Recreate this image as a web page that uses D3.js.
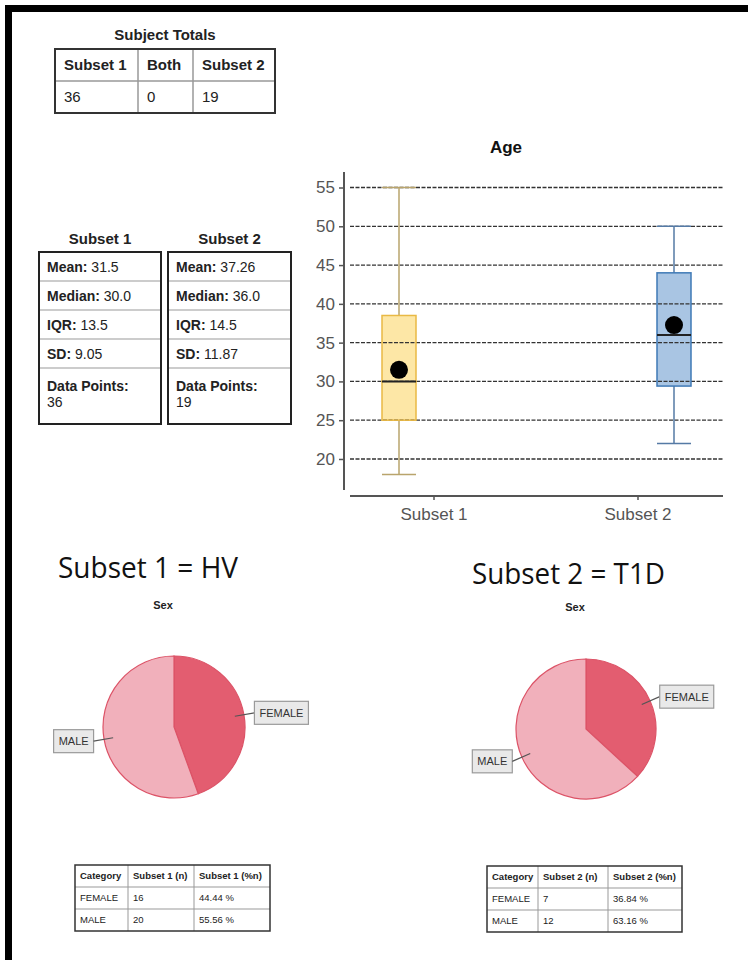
<!DOCTYPE html>
<html>
<head>
<meta charset="utf-8">
<script src="https://cdn.jsdelivr.net/npm/d3@7"></script>
<style>
  html, body { margin: 0; padding: 0; background: #fff; }
  svg { display: block; font-family: "Liberation Sans", Arial, sans-serif; }
</style>
</head>
<body>
<svg id="chart" width="748" height="960"></svg>
<script>
// ---------------- DATA ----------------
const totalsHeaders = ["Subset 1", "Both", "Subset 2"];
const totalsValues = ["36", "0", "19"];

const statLabels = ["Mean:", "Median:", "IQR:", "SD:", "Data Points:"];
const subset1Stats = ["31.5", "30.0", "13.5", "9.05", "36"];
const subset2Stats = ["37.26", "36.0", "14.5", "11.87", "19"];

const groups = ["Subset 1", "Subset 2"];
const whiskerLow = [18, 22];
const q1 = [25, 29.4];
const median = [30, 36];
const q3 = [38.5, 44];
const whiskerHigh = [55, 50];
const means = [31.5, 37.26];
const yTicks = [20, 25, 30, 35, 40, 45, 50, 55];

const sexCategories = ["FEMALE", "MALE"];
const subset1Counts = [16, 20];
const subset2Counts = [7, 12];
const subset1Pct = ["44.44 %", "55.56 %"];
const subset2Pct = ["36.84 %", "63.16 %"];
const subsetNames = ["Subset 1 = HV", "Subset 2 = T1D"];

// ---------------- DRAW ----------------
const svg = d3.select("#chart");

// outer frame (top and left thick bars)
svg.append("rect").attr("x", 5).attr("y", 5).attr("width", 743).attr("height", 7).attr("fill", "#000");
svg.append("rect").attr("x", 5).attr("y", 5).attr("width", 7).attr("height", 955).attr("fill", "#000");

// generic table
function drawTable(g, x0, y0, colW, rowH, cells, o) {
  const xs = [x0]; colW.forEach(w => xs.push(xs[xs.length - 1] + w));
  const ys = [y0]; rowH.forEach(h => ys.push(ys[ys.length - 1] + h));
  const W = xs[xs.length - 1] - x0, H = ys[ys.length - 1] - y0;
  xs.slice(1, -1).forEach(x => g.append("line").attr("x1", x).attr("x2", x).attr("y1", y0).attr("y2", y0 + H)
    .attr("stroke", o.inner).attr("stroke-width", o.innerW));
  ys.slice(1, -1).forEach(y => g.append("line").attr("x1", x0).attr("x2", x0 + W).attr("y1", y).attr("y2", y)
    .attr("stroke", o.inner).attr("stroke-width", o.innerW));
  g.append("rect").attr("x", x0).attr("y", y0).attr("width", W).attr("height", H)
    .attr("fill", "none").attr("stroke", o.outer).attr("stroke-width", o.outerW);
  cells.forEach((row, r) => row.forEach((c, ci) => {
    g.append("text").attr("x", xs[ci] + o.pad).attr("y", ys[r] + rowH[r] / 2 + o.fs * 0.36)
      .attr("font-size", o.fs).attr("fill", "#222")
      .attr("font-weight", (o.headerBold && r === 0) ? "bold" : "normal").text(c);
  }));
}

// Subject Totals
svg.append("text").attr("x", 165).attr("y", 40).attr("text-anchor", "middle")
  .attr("font-size", 15).attr("font-weight", "bold").attr("fill", "#222").text("Subject Totals");
drawTable(svg.append("g"), 55, 49, [83, 55, 82], [32, 32], [totalsHeaders, totalsValues],
  { inner: "#999", innerW: 1.5, outer: "#333", outerW: 2, pad: 9, fs: 15, headerBold: true });

// Stats tables
function statsTable(x0, w, title, vals) {
  const g = svg.append("g");
  g.append("text").attr("x", x0 + w / 2).attr("y", 244).attr("text-anchor", "middle")
    .attr("font-size", 15).attr("font-weight", "bold").attr("fill", "#222").text(title);
  const ys = [252, 281, 310, 339, 368, 424];
  for (let i = 1; i < ys.length - 1; i++) {
    g.append("line").attr("x1", x0).attr("x2", x0 + w).attr("y1", ys[i]).attr("y2", ys[i])
      .attr("stroke", "#999").attr("stroke-width", 1.2);
  }
  g.append("rect").attr("x", x0).attr("y", ys[0]).attr("width", w).attr("height", ys[ys.length - 1] - ys[0])
    .attr("fill", "none").attr("stroke", "#222").attr("stroke-width", 2);
  statLabels.forEach((lab, i) => {
    if (i < 4) {
      const t = g.append("text").attr("x", x0 + 8).attr("y", ys[i] + 20).attr("font-size", 14).attr("fill", "#222");
      t.append("tspan").attr("font-weight", "bold").text(lab + " ");
      t.append("tspan").text(vals[i]);
    } else {
      g.append("text").attr("x", x0 + 8).attr("y", ys[i] + 23).attr("font-size", 14).attr("font-weight", "bold")
        .attr("fill", "#222").text(lab);
      g.append("text").attr("x", x0 + 8).attr("y", ys[i] + 39).attr("font-size", 14).attr("fill", "#222").text(vals[i]);
    }
  });
}
statsTable(39, 122, "Subset 1", subset1Stats);
statsTable(168, 123, "Subset 2", subset2Stats);

// ---------------- Box plot ----------------
const bp = svg.append("g");
const y = d3.scaleLinear().domain([16, 57]).range([490, 172]);
const xCat = d3.scalePoint().domain(groups).range([434, 638]);
const dodge = d3.scalePoint().domain(groups).range([-35, 36]);
const boxW = 34;
const boxFill = ["#fde7a6", "#a9c5e3"];
const boxStroke = ["#e9b944", "#3f79b6"];
const whiskerColor = ["#b9a46c", "#557aa5"];

bp.append("text").attr("x", 506).attr("y", 153).attr("text-anchor", "middle")
  .attr("font-size", 17).attr("font-weight", "bold").attr("fill", "#111").text("Age");

// y axis
const yAxis = d3.axisLeft(y).tickValues(yTicks).tickSize(5).tickPadding(4);
const yg = bp.append("g").attr("transform", "translate(344,0)").call(yAxis);
yg.select(".domain").remove();
yg.selectAll(".tick line").attr("stroke", "#555").attr("stroke-width", 1.5);
yg.selectAll(".tick text").attr("font-size", 17).attr("fill", "#555")
  .attr("font-family", "'Liberation Sans', Arial, sans-serif");
bp.append("line").attr("x1", 344).attr("x2", 344).attr("y1", y.range()[1]).attr("y2", y.range()[0])
  .attr("stroke", "#555").attr("stroke-width", 2);

// boxes (fill)
groups.forEach((gname, i) => {
  const cx = xCat(gname) + dodge(gname);
  bp.append("rect").attr("x", cx - boxW / 2).attr("y", y(q3[i])).attr("width", boxW)
    .attr("height", y(q1[i]) - y(q3[i])).attr("fill", boxFill[i]);
});

// gridlines
bp.append("g").selectAll("line").data(yTicks).join("line")
  .attr("x1", 350).attr("x2", 723).attr("y1", d => y(d)).attr("y2", d => y(d))
  .attr("stroke", "#333").attr("stroke-width", 1.3).attr("stroke-dasharray", "4,1.5");

// whiskers, box outlines, medians, means
groups.forEach((gname, i) => {
  const cx = xCat(gname) + dodge(gname);
  const wc = whiskerColor[i];
  bp.append("line").attr("x1", cx).attr("x2", cx).attr("y1", y(whiskerHigh[i])).attr("y2", y(q3[i]))
    .attr("stroke", wc).attr("stroke-width", 1.5);
  bp.append("line").attr("x1", cx).attr("x2", cx).attr("y1", y(q1[i])).attr("y2", y(whiskerLow[i]))
    .attr("stroke", wc).attr("stroke-width", 1.5);
  [whiskerHigh[i], whiskerLow[i]].forEach(v => bp.append("line")
    .attr("x1", cx - boxW / 2).attr("x2", cx + boxW / 2).attr("y1", y(v)).attr("y2", y(v))
    .attr("stroke", wc).attr("stroke-width", 1.5));
  bp.append("rect").attr("x", cx - boxW / 2).attr("y", y(q3[i])).attr("width", boxW)
    .attr("height", y(q1[i]) - y(q3[i])).attr("fill", "none").attr("stroke", boxStroke[i]).attr("stroke-width", 1.5);
  bp.append("line").attr("x1", cx - boxW / 2).attr("x2", cx + boxW / 2).attr("y1", y(median[i])).attr("y2", y(median[i]))
    .attr("stroke", "#222").attr("stroke-width", 2);
  bp.append("circle").attr("cx", cx).attr("cy", y(means[i])).attr("r", 9).attr("fill", "#000");
});

// x axis
const xg = bp.append("g").attr("transform", "translate(0,496)");
xg.append("line").attr("x1", 350).attr("x2", 723).attr("stroke", "#555").attr("stroke-width", 2);
groups.forEach(gname => {
  xg.append("line").attr("x1", xCat(gname)).attr("x2", xCat(gname)).attr("y1", 0).attr("y2", 4)
    .attr("stroke", "#555").attr("stroke-width", 1.5);
  xg.append("text").attr("x", xCat(gname)).attr("y", 24).attr("text-anchor", "middle")
    .attr("font-size", 17).attr("fill", "#555").text(gname);
});

// ---------------- Subset name captions ----------------
svg.append("text").attr("x", 58).attr("y", 578).attr("font-size", 30)
  .attr("font-family", "'Open Sans', sans-serif").attr("fill", "#111")
  .attr("textLength", 180).attr("lengthAdjust", "spacingAndGlyphs").text(subsetNames[0]);
svg.append("text").attr("x", 472).attr("y", 584).attr("font-size", 30)
  .attr("font-family", "'Open Sans', sans-serif").attr("fill", "#111")
  .attr("textLength", 193).attr("lengthAdjust", "spacingAndGlyphs").text(subsetNames[1]);

// ---------------- Pies ----------------
const pieColors = ["#e35d70", "#f1b0bb"];
function drawPie(cx, cy, r, titleY, counts) {
  const g = svg.append("g");
  g.append("text").attr("x", cx - 11).attr("y", titleY).attr("text-anchor", "middle")
    .attr("font-size", 11).attr("font-weight", "bold").attr("fill", "#222").text("Sex");
  const pg = g.append("g").attr("transform", `translate(${cx},${cy})`);
  const arcs = d3.pie().sort(null).value(d => d)(counts);
  const arc = d3.arc().innerRadius(0).outerRadius(r);
  pg.selectAll("path").data(arcs).join("path").attr("d", arc)
    .attr("fill", (d, i) => pieColors[i]).attr("stroke", "#dc5367").attr("stroke-width", 1.2);
  const inner = d3.arc().innerRadius(r * 0.87).outerRadius(r * 0.87);
  const outer = d3.arc().innerRadius(r * 1.15).outerRadius(r * 1.15);
  arcs.forEach((a, i) => {
    const p0 = inner.centroid(a), p1 = outer.centroid(a);
    const right = p1[0] > 0;
    pg.append("line").attr("x1", p0[0]).attr("y1", p0[1]).attr("x2", p1[0]).attr("y2", p1[1])
      .attr("stroke", "#555").attr("stroke-width", 1.2);
    const label = sexCategories[i];
    const t = pg.append("text").attr("font-size", 11).attr("fill", "#333").text(label);
    const tw = t.node().getComputedTextLength();
    const bw = tw + 10, bh = 23;
    const bx = right ? p1[0] : p1[0] - bw;
    const by = p1[1] - bh / 2;
    pg.insert("rect", "text").attr("x", bx).attr("y", by).attr("width", bw).attr("height", bh)
      .attr("fill", "#e9e9e9").attr("stroke", "#9a9a9a").attr("stroke-width", 1.2);
    t.attr("x", bx + 5).attr("y", by + bh / 2 + 4);
  });
}
drawPie(174, 727, 71, 609, subset1Counts);
drawPie(586, 729, 70, 611, subset2Counts);

// ---------------- Bottom tables ----------------
function sexTable(x0, y0, colW, name, counts, pcts) {
  const cells = [["Category", name + " (n)", name + " (%n)"]];
  sexCategories.forEach((c, i) => cells.push([c, String(counts[i]), pcts[i]]));
  drawTable(svg.append("g"), x0, y0, colW, [22, 22, 22], cells,
    { inner: "#999", innerW: 1, outer: "#333", outerW: 1.5, pad: 5, fs: 9.5, headerBold: true });
}
sexTable(75, 865, [53, 66, 76], "Subset 1", subset1Counts, subset1Pct);
sexTable(487, 866, [51, 70, 74], "Subset 2", subset2Counts, subset2Pct);
</script>
</body>
</html>
